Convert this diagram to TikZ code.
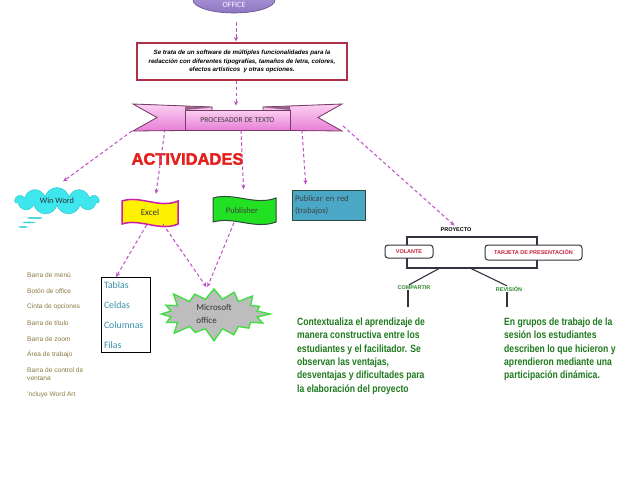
\documentclass[tikz,border=0pt]{standalone}
\usepackage{fontspec}
\setmainfont{Liberation Sans}
\newfontfamily\narrowfont[FakeStretch=0.82]{Liberation Sans}
\newfontfamily\heavyfont[FakeBold=2.2]{Liberation Sans}
\newfontfamily\califont{Carlito}
\usetikzlibrary{shapes.symbols,shapes.callouts,shapes.geometric,arrows.meta}
\definecolor{dashpink}{HTML}{C24CC8}
\definecolor{boxred}{HTML}{B0304A}
\definecolor{ribtop}{HTML}{FBD0F2}
\definecolor{ribbot}{HTML}{E77ED6}
\definecolor{ribedge}{HTML}{7A3A66}
\definecolor{actred}{HTML}{E4201C}
\definecolor{wwcyan}{HTML}{3EE6EE}
\definecolor{exmag}{HTML}{C81EA8}
\definecolor{pubgreen}{HTML}{22E022}
\definecolor{pubdark}{HTML}{2E4A3A}
\definecolor{pubblue}{HTML}{4AA8C6}
\definecolor{tabteal}{HTML}{3A8FAA}
\definecolor{sbgray}{HTML}{BDBDBD}
\definecolor{sbgreen}{HTML}{44DD44}
\definecolor{listcol}{HTML}{8C7A3E}
\definecolor{volred}{HTML}{C41E3A}
\definecolor{labgreen}{HTML}{2E8B2E}
\definecolor{pgreen}{HTML}{1F7A1F}
\definecolor{brk}{HTML}{33333F}
\definecolor{offtop}{HTML}{B8A6E0}
\definecolor{offbot}{HTML}{8E74C2}
\tikzset{
  conn/.style={draw=dashpink, line width=1pt, dash pattern=on 3.5pt off 2.5pt, -{Stealth[length=4.5pt,width=4pt]}},
  listitem/.style={anchor=west, inner sep=0pt, text=listcol, font=\fontsize{6.6}{8.2}\selectfont, align=left},
  capsbox/.style={draw=brk, fill=white, rounded corners=3pt, line width=1pt, text=volred, inner sep=0pt, font=\bfseries\fontsize{5.5}{6}\selectfont},
  greenlab/.style={text=labgreen, inner sep=0.5pt, font=\bfseries\fontsize{5.5}{6}\selectfont},
  para/.style={anchor=north west, inner sep=0pt, align=left, text=pgreen, font=\narrowfont\bfseries\fontsize{10.5}{13.4}\selectfont},
  blackline/.style={draw=brk, line width=1.1pt},
  ribbonpart/.style={draw=ribedge, line width=0.8pt, top color=ribtop, bottom color=ribbot},
}
\begin{document}
\begin{tikzpicture}[x=1pt,y=-1pt]
\useasboundingbox (0,0) rectangle (638,479);
\fill[white] (0,0) rectangle (638,479);

% OFFICE ellipse
\node[ellipse, draw=offbot!70!black, line width=0.6pt, top color=offtop, bottom color=offbot, minimum width=82pt, minimum height=26pt, inner sep=0pt,
  label={[inner sep=0pt, yshift=-4.5pt, text=white!90!offtop, font=\califont\fontsize{8}{9}\selectfont]center:OFFICE}] (office) at (234,0) {};

% description box
\node[draw=boxred, line width=1.2pt, fill=white, minimum width=210pt, minimum height=37pt, align=center, inner sep=0pt, font=\bfseries\itshape\fontsize{6.2}{8.5}\selectfont] (desc) at (242,61.5) {Se trata de un software de múltiples funcionalidades para la\\ redacción con diferentes tipografías, tamaños de letra, colores,\\ efectos artísticos \ y otras opciones.};

% ribbon tails
\filldraw[ribbonpart] (133,104) -- (212,107) -- (212,126) -- (185,130.5) -- (133,131) -- (157,117.5) -- cycle;
\filldraw[ribbonpart] (342,104) -- (263,107) -- (263,126) -- (290,130.5) -- (342,131) -- (318,117.5) -- cycle;
\fill[ribedge!80] (185,106) -- (212,107.5) -- (185,110) -- cycle;
\fill[ribedge!80] (290,106) -- (263,107.5) -- (290,110) -- cycle;
\node[ribbonpart, minimum width=105pt, minimum height=20pt, inner sep=0pt, text=black!75, font=\califont\fontsize{7.6}{9}\selectfont] (proc) at (237.5,120) {PROCESADOR DE TEXTO};

% ACTIVIDADES
\node[text=actred, inner sep=0pt, font=\heavyfont\bfseries\fontsize{16.5}{17}\selectfont] (act) at (187.5,159) {ACTIVIDADES};

% Win Word cloud
\node[cloud callout, cloud puffs=11, aspect=3.2, fill=wwcyan, draw=wwcyan!85!black, line width=0.4pt, minimum width=84pt, minimum height=27pt, inner sep=0.5pt, callout absolute pointer={(23,227)}, callout pointer segments=3, font=\califont\fontsize{8.3}{9}\selectfont, text=black!80] (ww) at (57,201) {Win Word};

% Excel flag
\filldraw[fill=yellow, draw=exmag, line width=1.5pt] (122,201) .. controls (140,195) and (160,209) .. (178,201) -- (178,224) .. controls (160,232) and (140,218) .. (122,224) -- cycle;
\node[inner sep=0pt, minimum width=56pt, minimum height=23pt, font=\califont\fontsize{9}{10}\selectfont, text=black!80] (excel) at (150,212.5) {Excel};

% Publisher flag
\filldraw[fill=pubgreen, draw=pubdark, line width=1pt] (213,198) .. controls (234,192) and (255,206) .. (276,198) -- (276,222) .. controls (255,230) and (234,216) .. (213,222) -- cycle;
\node[inner sep=0pt, minimum width=63pt, minimum height=24pt, font=\califont\fontsize{8.5}{10}\selectfont, text=black!75] (pub) at (242,210.5) {Publisher};

% Publicar en red
\node[draw=pubdark, fill=pubblue, line width=1pt, minimum width=73pt, minimum height=30pt, text width=67pt, inner sep=2.5pt, align=left, font=\califont\fontsize{8.5}{12}\selectfont, text=black!75] (red) at (328.5,205) {Publicar en red\\(trabajos)};

% Tablas box
\node[draw=black, line width=0.9pt, minimum width=49pt, minimum height=75pt, text width=44pt, inner sep=2.5pt, align=left, font=\califont\fontsize{9.8}{20}\selectfont, text=tabteal] (tab) at (126,315) {Tablas\\Celdas\\Columnas\\Filas};

% Microsoft office starburst
\node[starburst, starburst points=16, starburst point height=14pt, fill=sbgray, draw=sbgreen, line width=1.4pt, minimum width=116pt, minimum height=58pt, align=left, inner sep=0pt, font=\califont\fontsize{9}{13}\selectfont, text=black!80] (ms) at (214,314) {Microsoft\\office};

% left list
\node[listitem] (l1) at (27,275) {Barra de menú};
\node[listitem] (l2) at (27,291) {Botón de office};
\node[listitem] (l3) at (27,307) {Cinta de opciones};
\node[listitem] (l4) at (27,323) {Barra de título};
\node[listitem] (l5) at (27,339) {Barra de zoom};
\node[listitem] (l6) at (27,354) {Área de trabajo};
\node[listitem] (l7) at (27,374) {Barra de control de\\ventana};
\node[listitem] (l8) at (27,395) {'ncluye Word Art};

% PROYECTO part
\node[inner sep=0.5pt, font=\bfseries\fontsize{5.5}{6}\selectfont] (proy) at (456,229.5) {PROYECTO};
\draw[blackline] (407,237) rectangle (537,268);
\node[capsbox, minimum width=48pt, minimum height=13pt] (vol) at (409,251.5) {VOLANTE};
\node[capsbox, minimum width=97pt, minimum height=15pt] (tar) at (533.5,252.5) {TARJETA DE PRESENTACIÓN};
\coordinate (bl) at (440,268);
\coordinate (br) at (470,268);
\node[greenlab] (comp) at (414,287.5) {COMPARTIR};
\node[greenlab] (rev) at (509,289) {REVISIÓN};
\draw[blackline] (bl) -- ([xshift=-5pt]comp.north);
\draw[blackline] (br) -- ([xshift=-2pt]rev.north);
\coordinate (c1) at (408,307);
\coordinate (c2) at (507,307);
\draw[blackline] ([xshift=-6pt]comp.south) -- (c1);
\draw[blackline] ([xshift=-2pt]rev.south) -- (c2);

% paragraphs
\node[para] (p1) at (297,317.5) {Contextualiza el aprendizaje de\\manera constructiva entre los\\estudiantes y el facilitador. Se\\observan las ventajas,\\desventajas y dificultades para\\la elaboración del proyecto};
\node[para] (p2) at (504,317.5) {En grupos de trabajo de la\\sesión los estudiantes\\describen lo que hicieron y\\aprendieron mediante una\\participación dinámica.};

% connectors
\draw[conn, shorten <=9pt, shorten >=1pt] ([xshift=2pt]office.south) -- ([xshift=-6pt]desc.north);
\draw[conn, shorten >=4pt] ([xshift=-6pt]desc.south) -- ([xshift=-1.5pt]proc.north);
\coordinate (tl) at (132,131);
\coordinate (tl2) at (165,129);
\coordinate (tr) at (302,130);
\coordinate (tr2) at (343,126);
\draw[conn, shorten >=10pt] (tl) -- ([xshift=-2pt]ww.north);
\draw[conn, shorten >=7pt] (tl2) -- ([xshift=5pt]excel.north);
\draw[conn, shorten >=9pt] ([xshift=3.5pt]proc.south) -- ([xshift=2pt]pub.north);
\draw[conn, shorten >=5pt] (tr) -- ([xshift=-22.5pt]red.north);
\draw[conn, shorten >=2pt] (tr2) -- (proy.north);
\draw[conn, shorten <=1pt] ([xshift=-3pt]excel.south) -- ([xshift=-10pt]tab.north);
\draw[conn, shorten >=1pt] ([xshift=13pt]excel.south) -- ([xshift=-7pt]ms.north);
\draw[conn, shorten >=1pt] ([xshift=-8pt]pub.south) -- ([xshift=-7pt]ms.north);
\end{tikzpicture}
\end{document}
